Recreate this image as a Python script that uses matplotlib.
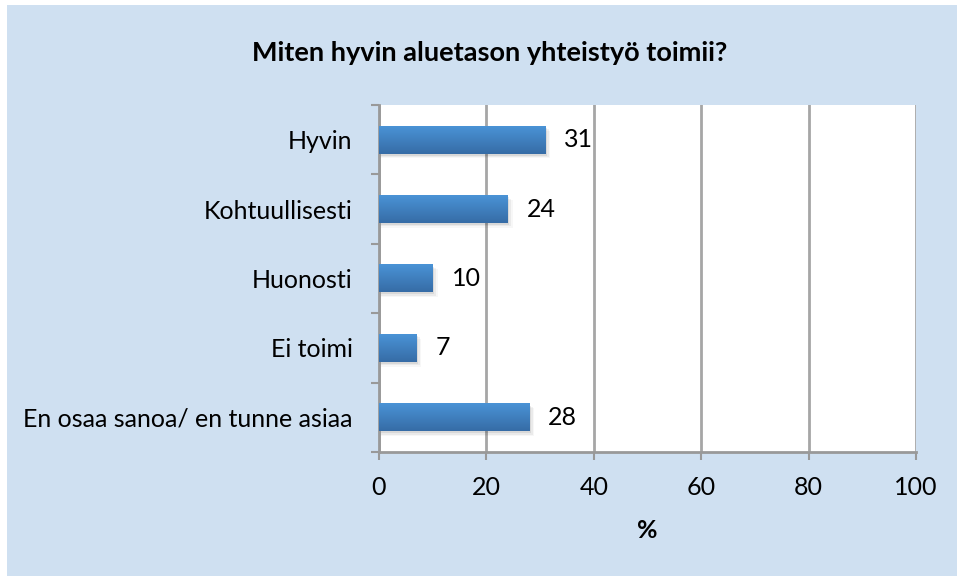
import numpy as np
import matplotlib.pyplot as plt
from matplotlib.patches import Rectangle

categories = ["Hyvin", "Kohtuullisesti", "Huonosti", "Ei toimi", "En osaa sanoa/ en tunne asiaa"]
values = [31, 24, 10, 7, 28]
xticks = [0, 20, 40, 60, 80, 100]

plt.rcParams["font.family"] = ["Lato", "DejaVu Sans"]

fig = plt.figure(figsize=(9.57, 5.76), dpi=100, facecolor="white")
fig.patches.append(Rectangle((7 / 957, 0), 1, 1 - 5 / 576, transform=fig.transFigure,
                             facecolor="#cfe0f1", edgecolor="none", zorder=-10))

ax = fig.add_axes([379 / 957, 1 - 452 / 576, (916 - 379) / 957, (452 - 105) / 576])
ax.set_zorder(5)
ax.set_facecolor("white")

ypos = np.arange(len(categories))[::-1]
h = 0.4

# gradient for the bars (light on top, darker at bottom)
grad = np.linspace(0, 1, 64).reshape(-1, 1)
top = np.array([0x4a, 0x93, 0xd6]) / 255
bot = np.array([0x36, 0x6c, 0xa6]) / 255
img = top + (bot - top) * grad[:, :, None]
img = img.reshape(64, 1, 3)

for y, v in zip(ypos, values):
    # soft shadow
    for k, a in enumerate([0.08, 0.05, 0.03]):
        ax.add_patch(Rectangle((0, y - h / 2 - 0.03 - 0.02 * k), v + 0.3 + 0.3 * k, h,
                               facecolor="black", alpha=a, edgecolor="none", zorder=2))
    ax.imshow(img, extent=(0, v, y - h / 2, y + h / 2), aspect="auto", zorder=3,
              interpolation="bilinear")
    ax.text(v + 3.5, y, str(v), va="center", ha="left", fontsize=18, color="black")

ax.set_xlim(0, 100)
ax.set_ylim(-0.5, len(categories) - 0.5)
ax.set_xticks(xticks)
ax.set_xticklabels([str(t) for t in xticks], fontsize=18)
ax.set_yticks(ypos)
ax.set_yticklabels(categories, fontsize=18)
ax.set_yticks(np.arange(len(categories) + 1) - 0.5, minor=True)

ax.tick_params(axis="y", which="major", length=0, pad=19)
ax.tick_params(axis="y", which="minor", length=6, width=1.5, color="#999999", direction="out")
ax.tick_params(axis="x", length=6, width=1.5, color="#999999", direction="out", pad=11)

ax.grid(axis="x", color="#a6a6a6", linewidth=2, zorder=1)
ax.set_axisbelow(True)
ax.spines["top"].set_visible(False)
ax.spines["right"].set_visible(False)
ax.spines["left"].set_color("#999999")
ax.spines["left"].set_linewidth(2)
ax.spines["bottom"].set_color("#999999")
ax.spines["bottom"].set_linewidth(2)

ax.set_xlabel("%", fontsize=18, fontweight="bold", labelpad=15)
fig.text(490 / 957, 1 - 53 / 576, "Miten hyvin aluetason yhteistyö toimii?",
         ha="center", va="center", fontsize=19.5, fontweight="bold")

fig.savefig("out.png", dpi=100, facecolor=fig.get_facecolor())
